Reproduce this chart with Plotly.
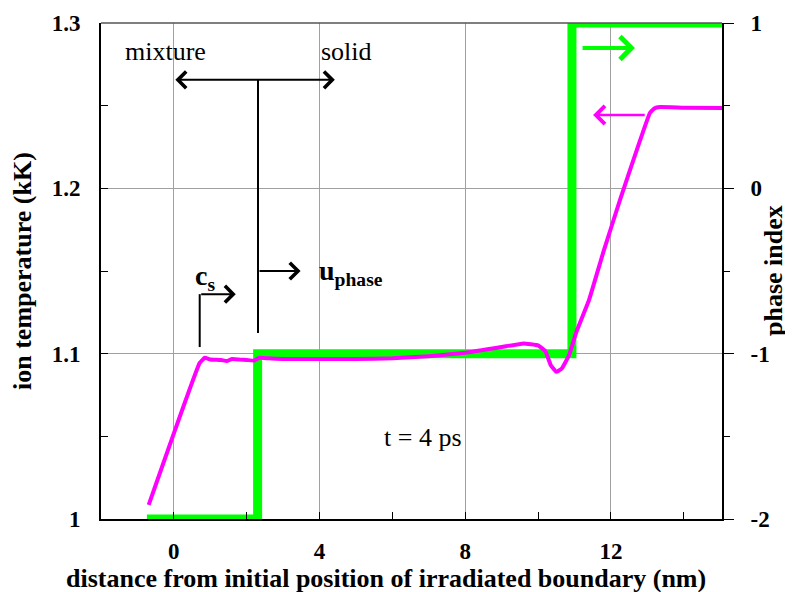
import plotly.graph_objects as go

# ---- data ----
temp_x = [-0.69, 0.71, 0.85, 1.0, 1.3, 1.45, 1.6, 1.8, 2.0, 2.2, 2.35, 2.6, 3.0, 4.0, 5.0, 6.0, 7.0,
          8.0, 9.0, 9.6, 10.0, 10.2, 10.35, 10.5, 10.65, 10.85, 11.05, 11.4, 11.8, 12.25, 12.8,
          13.07, 13.2, 13.35, 14.0, 15.05]
temp_kK = [1.0085, 1.0944, 1.0975, 1.0965, 1.0962, 1.0955, 1.0968, 1.0964, 1.0962, 1.0958, 1.0975,
           1.0972, 1.0968, 1.0968, 1.0968, 1.0972, 1.0985, 1.1005, 1.104, 1.1062, 1.105, 1.1015,
           1.093, 1.089, 1.091, 1.099, 1.113, 1.1325, 1.162, 1.193, 1.229, 1.2456, 1.2485,
           1.2492, 1.2488, 1.2486]

phase_x = [-0.74, 2.3, 2.3, 10.93, 10.93, 15.05]
phase_idx = [-2, -2, -1, -1, 1, 1]

x_ticks = [0, 4, 8, 12]
x_minor = [2, 6, 10, 14]
t_ticks = [1.0, 1.1, 1.2, 1.3]
t_ticktext = ["1", "1.1", "1.2", "1.3"]
t_minor = [1.05, 1.15, 1.25]
p_ticks = [-2, -1, 0, 1]
p_minor = [-1.5, -0.5, 0.5]

FONT = "Liberation Serif"
MAG = "#ff00ff"
GRN = "#00ff00"

def F(size, bold=False):
    d = dict(family=FONT, size=size, color="black")
    if bold:
        d["weight"] = "bold"
    return d

fig = go.Figure()
fig.add_trace(go.Scatter(x=phase_x, y=phase_idx, mode="lines", yaxis="y",
                         line=dict(color=GRN, width=9), showlegend=False))
fig.add_trace(go.Scatter(x=temp_x, y=temp_kK, mode="lines", yaxis="y2",
                         line=dict(color=MAG, width=4, shape="spline", smoothing=0.3),
                         showlegend=False))

tickfont = F(23, True)

fig.update_layout(
    width=785, height=584,
    margin=dict(l=93, r=71, t=15, b=73, autoexpand=False),
    plot_bgcolor="white", paper_bgcolor="white",
    font=dict(family=FONT, color="black"),
    xaxis=dict(range=[-2, 15.05], tickvals=x_ticks, ticktext=[str(v) for v in x_ticks],
               showgrid=True, gridcolor="#a0a0a0", gridwidth=1, zeroline=False,
               showline=True, linecolor="black", linewidth=2, automargin=False,
               ticks="inside", ticklen=7, tickcolor="black", ticklabelstandoff=10,
               minor=dict(tickvals=x_minor, ticks="inside", ticklen=7, tickcolor="black", showgrid=False),
               tickfont=tickfont),
    yaxis=dict(range=[-2, 1], side="right", tickvals=p_ticks, ticktext=[str(v) for v in p_ticks],
               showgrid=True, gridcolor="#a0a0a0", gridwidth=1, zeroline=False,
               showline=True, linecolor="black", linewidth=2, automargin=False,
               ticks="outside", ticklen=10, tickcolor="black", ticklabelstandoff=12,
               minor=dict(tickvals=p_minor, ticks="outside", ticklen=6, tickcolor="black", showgrid=False),
               tickfont=tickfont),
    yaxis2=dict(range=[1.0, 1.3], side="left", overlaying="y", tickvals=t_ticks, ticktext=t_ticktext,
                showgrid=False, zeroline=False, automargin=False,
                showline=True, linecolor="black", linewidth=2,
                ticks="inside", ticklen=7, tickcolor="black", ticklabelstandoff=14,
                minor=dict(tickvals=t_minor, ticks="inside", ticklen=7, tickcolor="black", showgrid=False),
                tickfont=tickfont),
)

# top border line
fig.add_shape(type="line", xref="paper", yref="paper", x0=0, x1=1, y0=1, y1=1,
              line=dict(color="#555555", width=1.5))

ann = []
# axis titles
ann.append(dict(text="<b>ion temperature (kK)</b>", xref="paper", yref="paper", x=0, y=0.5,
                xanchor="center", yanchor="middle", xshift=-79, textangle=-90,
                showarrow=False, font=F(26)))
ann.append(dict(text="<b>phase index</b>", xref="paper", yref="paper", x=1, y=0.5,
                xanchor="center", yanchor="middle", xshift=51, textangle=-90,
                showarrow=False, font=F(26)))
ann.append(dict(text="<b>distance from initial position of irradiated boundary (nm)</b>",
                xref="paper", yref="paper", x=0.5, y=0, xanchor="center", yanchor="middle",
                yshift=-59, xshift=-26, showarrow=False, font=F(26)))

# texts
ann.append(dict(text="mixture", x=-0.23, y=1.2825, xref="x", yref="y2", showarrow=False,
                xanchor="center", yanchor="middle", font=F(26)))
ann.append(dict(text="solid", x=4.73, y=1.2825, xref="x", yref="y2", showarrow=False,
                xanchor="center", yanchor="middle", font=F(26)))
ann.append(dict(text="t = 4 ps", x=6.84, y=1.049, xref="x", yref="y2", showarrow=False,
                xanchor="center", yanchor="middle", font=F(26)))
ann.append(dict(text="<b>u<sub>phase</sub></b>", x=3.93, y=1.149, xref="x", yref="y2",
                xanchor="left", yanchor="middle", showarrow=False, font=F(28)))
ann.append(dict(text="<b>c<sub>s</sub></b>", x=0.52, y=1.146, xref="x", yref="y2",
                xanchor="left", yanchor="middle", showarrow=False, font=F(28)))

# arrows
def arrow(x, y, ax, ay, yref, color, side="end", width=2, size=1.6):
    return dict(x=x, y=y, ax=ax, ay=ay, xref="x", yref=yref, axref="x", ayref=yref,
                showarrow=True, arrowhead=4, arrowsize=size, arrowwidth=width, arrowcolor=color,
                arrowside=side, text="", startarrowhead=4, startarrowsize=size)

ann.append(arrow(4.42, 1.2656, 0.0, 1.2656, "y2", "black", side="end+start"))
ann.append(arrow(3.48, 1.15, 2.31, 1.15, "y2", "black"))
ann.append(arrow(1.70, 1.136, 0.71, 1.136, "y2", "black"))
ann.append(arrow(12.66, 0.849, 11.18, 0.849, "y", GRN, width=4, size=1.1))
ann.append(arrow(11.51, 1.2444, 12.97, 1.2444, "y2", MAG, width=2.5, size=1.4))
fig.update_layout(annotations=ann)

# connector lines
fig.add_shape(type="line", xref="x", yref="y2", x0=2.31, x1=2.31, y0=1.2656, y1=1.1125,
              line=dict(color="black", width=2))
fig.add_shape(type="line", xref="x", yref="y2", x0=0.71, x1=0.71, y0=1.104, y1=1.136,
              line=dict(color="black", width=2))

fig.write_html("out.html")
